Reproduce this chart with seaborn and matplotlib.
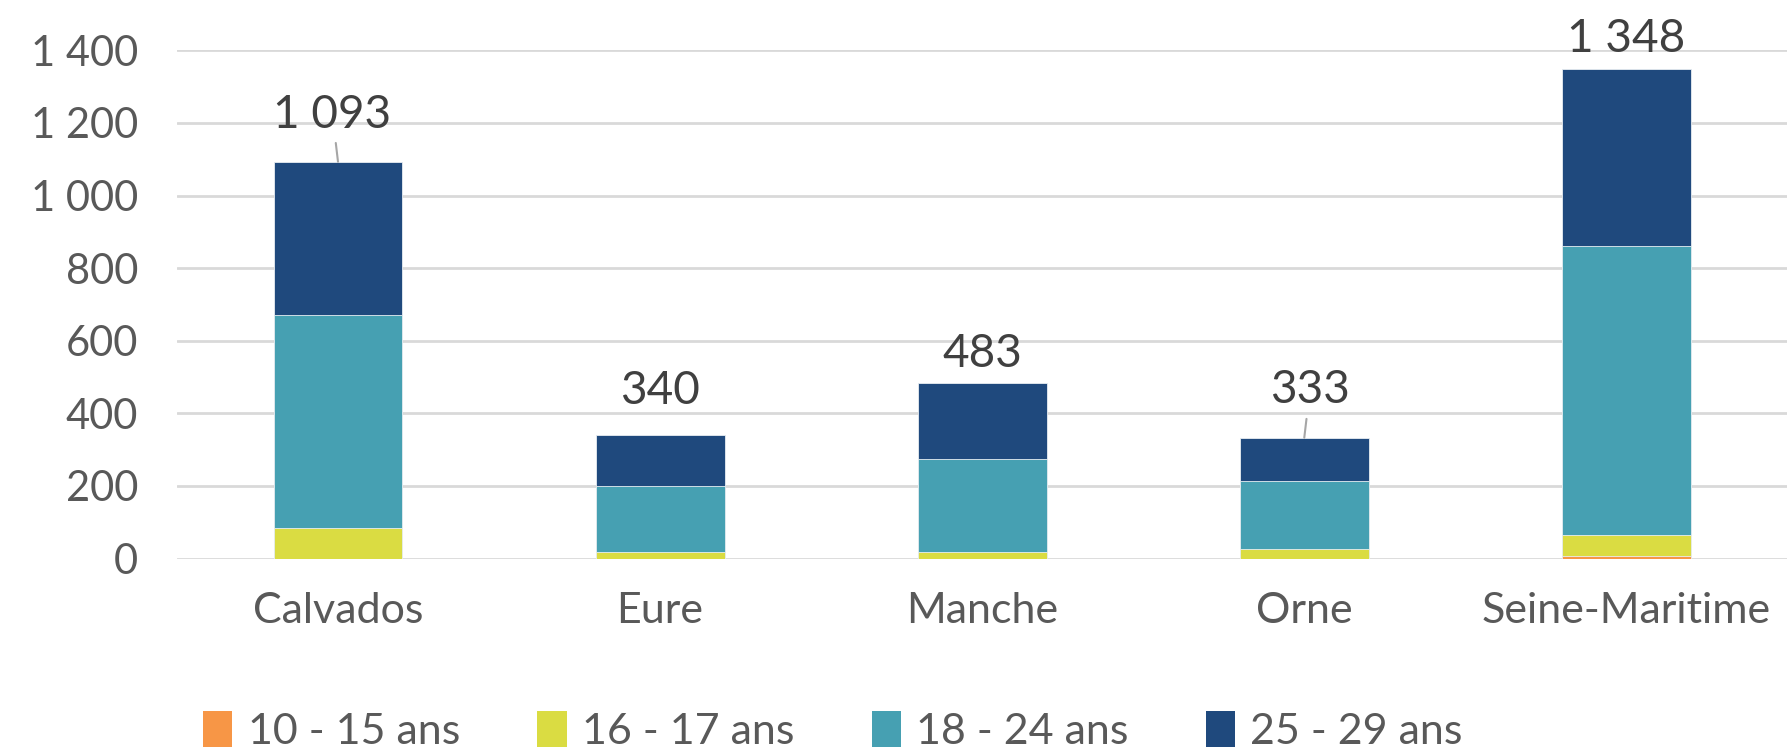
import matplotlib
matplotlib.use("Agg")
import matplotlib.pyplot as plt
from matplotlib.patches import Patch
import numpy as np
import pandas as pd
import seaborn as sns

departements = ["Calvados", "Eure", "Manche", "Orne", "Seine-Maritime"]
tranches = ["10 - 15 ans", "16 - 17 ans", "18 - 24 ans", "25 - 29 ans"]
ans_10_15 = [0, 0, 0, 0, 7]
ans_16_17 = [85, 19, 17, 27, 57]
ans_18_24 = [585, 182, 257, 187, 798]
ans_25_29 = [423, 139, 209, 119, 486]
totaux = [1093, 340, 483, 333, 1348]
y_ticks = [0, 200, 400, 600, 800, 1000, 1200, 1400]
couleurs = ["#F79646", "#DADC42", "#46A0B2", "#1F497D"]

sns.set_theme(style="white")
plt.rcParams["font.family"] = ["Lato", "DejaVu Sans"]

series = [ans_10_15, ans_16_17, ans_18_24, ans_25_29]
df = pd.DataFrame({"departement": departements})
cumul = np.zeros(len(departements))
for nom, vals in zip(tranches, series):
    cumul = cumul + np.array(vals)
    df[nom] = cumul.copy()

fig = plt.figure(figsize=(17.91, 7.52), dpi=100)
ax = fig.add_axes([0.0988, 0.2572, 0.8992, 0.6759])

# stacked bars: draw cumulative heights from the top segment down
for nom, coul in reversed(list(zip(tranches, couleurs))):
    sns.barplot(data=df, x="departement", y=nom, color=coul, width=0.4,
                saturation=1, ax=ax, edgecolor="#E8EEF2", linewidth=0.6,
                zorder=3)

ax.set_xlim(-0.5, 4.5)
ax.set_ylim(0, 1400)
ax.set_yticks(y_ticks)
ax.set_yticklabels([f"{v:,}".replace(",", " ") for v in y_ticks])
ax.grid(axis="y", color="#D9D9D9", linewidth=2, zorder=0)
ax.set_axisbelow(True)
for s in ax.spines.values():
    s.set_visible(False)
ax.set_xlabel("")
ax.set_ylabel("")
ax.tick_params(axis="y", labelsize=30, labelcolor="#595959", length=0, pad=28)
ax.tick_params(axis="x", labelsize=31, labelcolor="#595959", length=0, pad=24)

# total labels above each bar (offsets in points, some with leader lines)
offsets = [(-4, 34, True), (0, 32, False), (0, 21, False), (4, 34, True), (0, 22, False)]
for i, (tot, (dx, dy, leader)) in enumerate(zip(totaux, offsets)):
    txt = f"{tot:,}".replace(",", " ")
    props = None
    if leader:
        props = dict(arrowstyle="-", color="#A6A6A6", lw=1.5, shrinkA=3, shrinkB=0)
    ax.annotate(txt, xy=(i, tot), xytext=(dx, dy), textcoords="offset points",
                ha="center", va="center", fontsize=33, color="#404040",
                annotation_clip=False, arrowprops=props)

handles = [Patch(facecolor=c, edgecolor="none") for c in couleurs]
fig.legend(handles, tranches, loc="center", bbox_to_anchor=(0.465, 0.028),
           ncol=4, frameon=False, fontsize=31, labelcolor="#595959",
           handlelength=0.68, handleheight=0.9, handletextpad=0.35,
           columnspacing=1.8)

fig.savefig("out.png", dpi=100)
